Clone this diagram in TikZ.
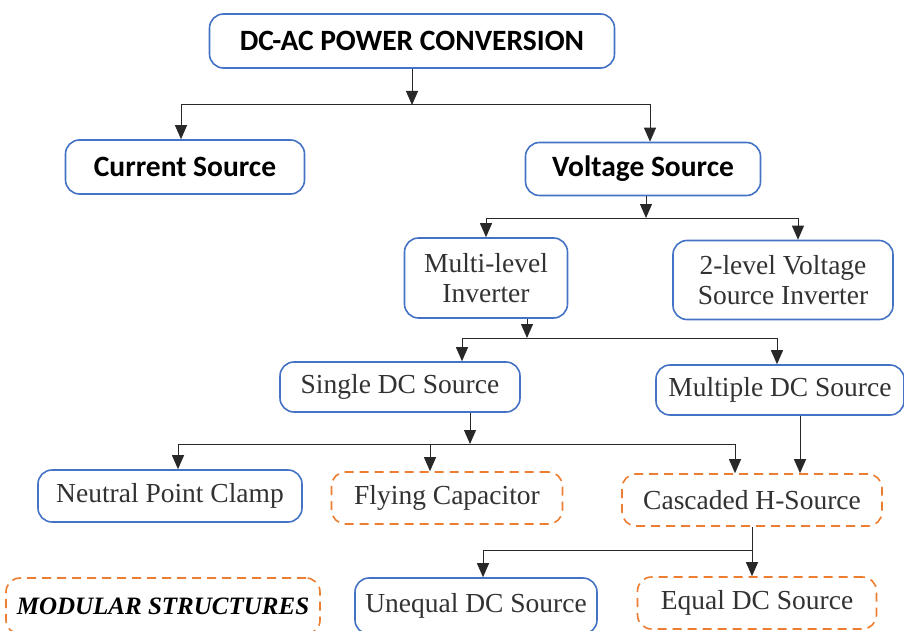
\documentclass[tikz,border=0pt]{standalone}
\usepackage{fontspec}
\setmainfont{Liberation Serif}
\newfontfamily\headfont{Carlito}
\usetikzlibrary{arrows.meta, positioning}

\definecolor{boxblue}{RGB}{68,114,196}
\definecolor{boxorange}{RGB}{237,125,49}
\definecolor{textgray}{RGB}{50,50,50}
\definecolor{linegray}{RGB}{40,40,40}

\tikzset{
  blueb/.style={draw=boxblue, line width=1.6pt, rounded corners=14pt, fill=white,
    text=textgray, font=\fontsize{27.5}{30}\selectfont, align=center, inner sep=0pt},
  orangeb/.style={blueb, draw=boxorange, dash pattern=on 9pt off 6pt},
  headb/.style={blueb, text=black, font=\headfont\bfseries\fontsize{29.5}{32}\selectfont},
  arr/.style={draw=linegray, line width=1pt, -{Triangle[width=12pt,length=14pt]}},
}

\begin{document}
\begin{tikzpicture}[x=1pt,y=-1pt]
\useasboundingbox (0,0) rectangle (904,631);

% top level
\node[headb, minimum width=405pt, minimum height=54pt] (root) at (412,41) {DC-AC POWER CONVERSION};
\node[headb, minimum width=239pt, minimum height=54pt] (cur) at (185,167) {Current Source};
\node[headb, minimum width=235pt, minimum height=53pt] (volt) at (643,169) {Voltage Source};

% inverter types
\node[blueb, minimum width=163pt, minimum height=80pt] (ml) at (486,278) {Multi-level\\Inverter};
\node[blueb, minimum width=220pt, minimum height=79pt] (tl) at (783,280) {2-level Voltage\\Source Inverter};

% dc sources
\node[blueb, minimum width=240pt, minimum height=50pt] (sdc) at (400,387) {Single DC Source};
\node[blueb, minimum width=248pt, minimum height=50pt] (mdc) at (780,390) {Multiple DC Source};

% topologies
\node[blueb, minimum width=264pt, minimum height=52pt] (npc) at (170,496) {Neutral Point Clamp};
\node[orangeb, minimum width=231pt, minimum height=52pt] (fc) at (447,498) {Flying Capacitor};
\node[orangeb, minimum width=260pt, minimum height=52pt] (chs) at (752,500) {Cascaded H-Source};

% bottom row
\node[orangeb, minimum width=314pt, minimum height=56pt, text=black,
  font=\bfseries\itshape\fontsize{25}{30}\selectfont] (mod) at (163,606) {MODULAR STRUCTURES};
\node[blueb, minimum width=242pt, minimum height=56pt] (ueq) at (476,606) {Unequal DC Source};
\node[orangeb, minimum width=239pt, minimum height=52pt] (eq) at (757,603) {Equal DC Source};

% connectors
\coordinate (j1) at (412,105);
\draw[arr] (root.south) -- (j1);
\draw[arr] (j1) -| ([xshift=-4pt]cur.north);
\draw[arr] (j1) -| ([xshift=7pt]volt.north);

\coordinate (j2) at (646,218);
\draw[arr] (volt.south -| j2) -- (j2);
\draw[arr] (j2) -| (ml.north);
\draw[arr] (j2) -| ([xshift=15pt]tl.north);

\coordinate (j3) at (527,338);
\draw[arr] (ml.south -| j3) -- (j3);
\draw[arr] (j3) -| ([xshift=62pt]sdc.north);
\draw[arr] (j3) -| ([xshift=-3pt]mdc.north);

\coordinate (j4) at (470,444);
\draw[arr] (sdc.south -| j4) -- (j4);
\draw[arr] (j4) -| ([xshift=8pt]npc.north);
\draw[arr] (j4) -| ([xshift=-17pt]fc.north);
\draw[arr] (j4) -| ([xshift=-17pt]chs.north);
\draw[arr] ([xshift=20pt]mdc.south) -- ([xshift=48pt]chs.north);

\coordinate (j5) at (752,550);
\draw[arr] (chs.south) -- (chs.south |- eq.north);
\draw[arr] (j5) -| ([xshift=7pt]ueq.north);
\end{tikzpicture}
\end{document}
